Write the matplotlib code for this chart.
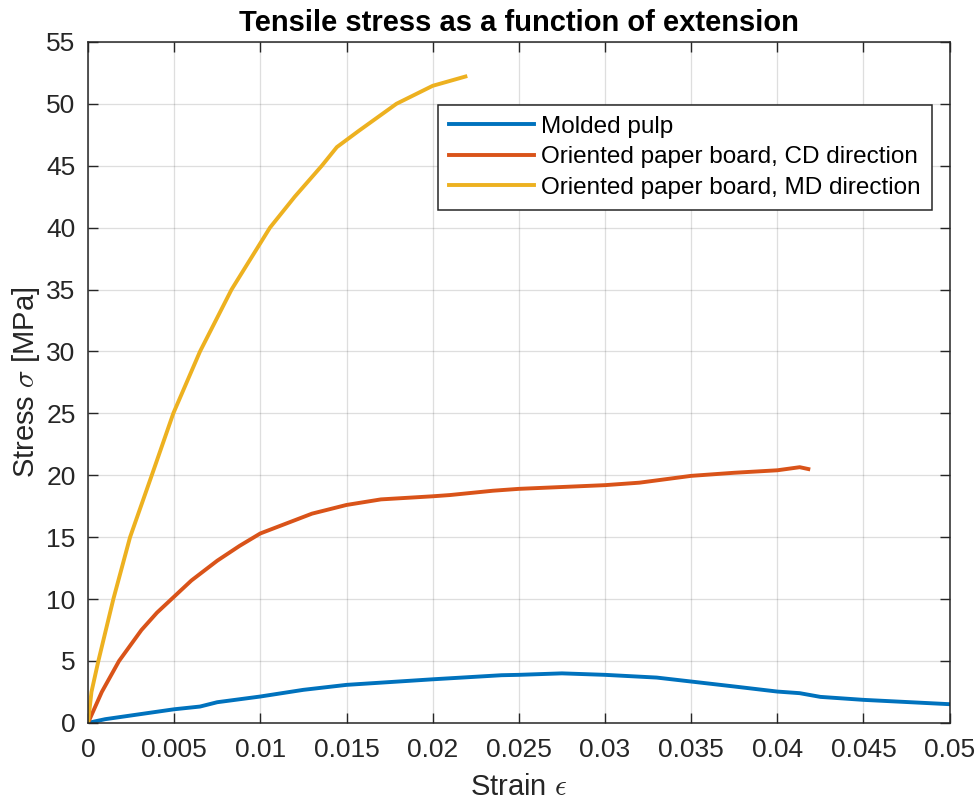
import matplotlib.pyplot as plt
import numpy as np

plt.rcParams['font.family'] = ['Liberation Sans', 'DejaVu Sans']
plt.rcParams['mathtext.fontset'] = 'cm'

# Molded pulp
strain_mp = [0, 0.001, 0.0025, 0.005, 0.0065, 0.0075, 0.01, 0.0125, 0.015, 0.02,
             0.024, 0.025, 0.0275, 0.03, 0.033, 0.035, 0.0375, 0.04, 0.0413,
             0.0425, 0.045, 0.05]
stress_mp = [0, 0.3, 0.6, 1.1, 1.32, 1.67, 2.13, 2.67, 3.07, 3.52,
             3.85, 3.88, 4.0, 3.88, 3.66, 3.34, 2.94, 2.53, 2.4,
             2.1, 1.86, 1.51]

# Oriented paper board, CD
strain_cd = [0, 0.0008, 0.0018, 0.0031, 0.004, 0.005, 0.006, 0.0075, 0.0088, 0.01,
             0.0115, 0.013, 0.015, 0.017, 0.02, 0.021, 0.0235, 0.025, 0.0275,
             0.03, 0.032, 0.035, 0.0375, 0.04, 0.0413, 0.0418]
stress_cd = [0, 2.5, 5.0, 7.5, 8.9, 10.2, 11.5, 13.1, 14.3, 15.3,
             16.1, 16.9, 17.6, 18.05, 18.3, 18.4, 18.75, 18.9, 19.05,
             19.2, 19.4, 19.95, 20.2, 20.4, 20.65, 20.5]

# Oriented paper board, MD
strain_md = [0, 0.0002, 0.0006, 0.00147, 0.00244, 0.0037, 0.00495, 0.0065, 0.00833,
             0.01056, 0.012, 0.01357, 0.01444, 0.0157, 0.0179, 0.02, 0.0219]
stress_md = [0, 2.5, 5.0, 10.0, 15.0, 20.0, 25.0, 30.0, 35.0,
             40.0, 42.5, 45.0, 46.5, 47.8, 50.0, 51.45, 52.2]

fig = plt.figure(figsize=(9.78, 8.05), dpi=100)
ax = fig.add_axes([0.09, 0.102, 0.881, 0.846])

ax.plot(strain_mp, stress_mp, color='#0072BD', lw=2.8, label='Molded pulp')
ax.plot(strain_cd, stress_cd, color='#D95319', lw=2.8, label='Oriented paper board, CD direction')
ax.plot(strain_md, stress_md, color='#EDB120', lw=2.8, label='Oriented paper board, MD direction')

ax.set_xlim(0, 0.05)
ax.set_ylim(0, 55)
ax.set_xticks(np.arange(0, 0.0501, 0.005))
ax.set_xticklabels(['0', '0.005', '0.01', '0.015', '0.02', '0.025', '0.03',
                    '0.035', '0.04', '0.045', '0.05'])
ax.set_yticks(np.arange(0, 56, 5))
ax.grid(True, color='#262626', alpha=0.15, lw=0.9)
ax.tick_params(direction='in', length=7, width=1, colors='#262626',
               labelsize=19, top=True, right=True)
ax.tick_params(axis='x', pad=11)
ax.tick_params(axis='y', pad=9)
for s in ax.spines.values():
    s.set_color('#262626')
    s.set_linewidth(1.1)

ax.set_title('Tensile stress as a function of extension', fontsize=21, fontweight='bold', pad=8)
ax.set_xlabel(r'Strain $\epsilon$', fontsize=21, color='#262626', labelpad=8)
ax.set_ylabel(r'Stress $\sigma$ [MPa]', fontsize=21, color='#262626', labelpad=3)

leg = ax.legend(loc='upper left', bbox_to_anchor=(0.406, 0.9075), borderaxespad=0,
                fontsize=17.5, fancybox=False, framealpha=1, edgecolor='#262626',
                handlelength=3.5, handletextpad=0.3, labelspacing=0.35, borderpad=0.45)
leg.get_frame().set_linewidth(1.1)

fig.savefig('out.png', dpi=100)
